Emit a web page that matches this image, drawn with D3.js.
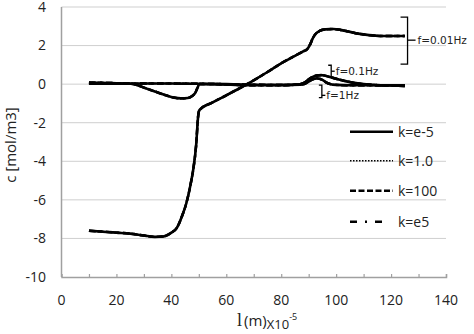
<!DOCTYPE html>
<html><head><meta charset="utf-8">
<script src="https://cdn.jsdelivr.net/npm/d3@7"></script>
<style>body{margin:0;background:#fff}svg{display:block}</style>
</head><body><svg id="c" width="474" height="334"></svg>
<script>
// ---- data ----
const xTicks = [0,20,40,60,80,100,120,140];
const yTicks = [-10,-8,-6,-4,-2,0,2,4];
const kLabels = ["k=e-5","k=1.0","k=100","k=e5"];
const fLabels = ["f=0.01Hz","f=0.1Hz","f=1Hz"];

const x001 = [10,15,20,25,30,34,37,40,42,44,45.5,47,48,49,49.8,50.2,55,60,65,70,75,80,85,88,89.5,90.5,91.5,92.5,94,96,99,102,105,108,112,116,120,125];
const y001 = [-7.6,-7.65,-7.7,-7.75,-7.85,-7.92,-7.9,-7.7,-7.45,-6.8,-6.15,-5.2,-4.4,-3.2,-1.6,-1.35,-0.95,-0.58,-0.2,0.2,0.63,1.08,1.47,1.7,1.82,2.05,2.38,2.6,2.76,2.84,2.86,2.8,2.71,2.62,2.54,2.5,2.5,2.5];

const x01 = [10,20,26,30,34,38,41,43.5,46,47.5,48.7,49.5,50.2,55,60,70,80,86,88.5,90,91.5,93,94.5,96,98,100,103,106,110,115,120,125];
const y01 = [0.08,0.05,0.01,-0.18,-0.38,-0.58,-0.7,-0.74,-0.72,-0.62,-0.45,-0.2,0.0,0.0,-0.02,-0.06,-0.06,-0.02,0.08,0.25,0.38,0.45,0.47,0.44,0.36,0.28,0.17,0.08,0.0,-0.05,-0.07,-0.1];

const x1 = [10,20,30,40,50,60,70,80,87,89.5,91,93,95,96.5,98,100,105,110,115,120,125];
const y1 = [0.02,0.02,0.03,0.03,0.02,0.0,-0.03,-0.04,-0.03,0.08,0.22,0.3,0.22,0.08,0.0,-0.04,-0.06,-0.06,-0.06,-0.06,-0.06];

// bracket annotations: [x of spine, top y, bottom y, middle y] in data units
const bracket001 = [126.0, 3.48, 1.04, 2.28];
const bracket01  = [98.2, 0.98, 0.36, 0.67];
const bracket1   = [94.8, -0.05, -0.7, -0.58];

// ---- layout ----
const svg = d3.select("#c");
const x = d3.scaleLinear().domain([0,140]).range([61.5,446]);
const y = d3.scaleLinear().domain([-10,4]).range([277,7]);
const font = "'Open Sans', sans-serif";

// gridlines
svg.append("g").selectAll("line").data(yTicks.filter(d=>d>-10)).join("line")
  .attr("x1",x(0)).attr("x2",x(140)).attr("y1",d=>y(d)).attr("y2",d=>y(d))
  .attr("stroke","#cfcfcf").attr("stroke-width",1);

// axes
const xAxis = d3.axisBottom(x).tickValues(d3.range(10,141,10)).tickSize(-3).tickFormat("");
svg.append("g").attr("transform",`translate(0,${y(-10)})`).call(xAxis)
  .call(g=>{g.select(".domain").attr("stroke","#a0a0a0").attr("stroke-width",1.5);
            g.selectAll(".tick line").attr("stroke","#a0a0a0").attr("stroke-width",1.2);});
svg.append("line").attr("x1",x(0)).attr("x2",x(0)).attr("y1",y(4)).attr("y2",y(-10))
  .attr("stroke","#a0a0a0").attr("stroke-width",1.5);

// tick labels
svg.append("g").selectAll("text").data(xTicks).join("text")
  .attr("x",d=>x(d)).attr("y",305).attr("text-anchor","middle")
  .attr("font-family",font).attr("font-size",14).attr("fill","#222").text(d=>d);
svg.append("g").selectAll("text").data(yTicks).join("text")
  .attr("x",46).attr("y",d=>y(d)).attr("dy","0.35em").attr("text-anchor","end")
  .attr("font-family",font).attr("font-size",14).attr("fill","#222").text(d=>d);

// axis titles
svg.append("text").attr("transform","translate(16,145) rotate(-90)").attr("text-anchor","middle")
  .attr("font-family",font).attr("font-size",15).attr("fill","#222").text("c [mol/m3]");
const xt = svg.append("text").attr("x",237).attr("y",326).attr("fill","#222").attr("font-family",font);
xt.append("tspan").attr("font-family","'Liberation Serif', serif").attr("font-size",18).text("l");
xt.append("tspan").attr("font-size",15).attr("dx",2).text("(m)");
xt.append("tspan").attr("font-size",13).attr("dy",3).text("X10");
xt.append("tspan").attr("font-size",9).attr("dy",-9).text("-5");

// curves
const styles = [
  {w:2.6, dash:null},
  {w:1.6, dash:"1.5,1.5"},
  {w:2.4, dash:"6,2.5"},
  {w:2.4, dash:"7,4,2,4"}
];
const series = [[x001,y001],[x01,y01],[x1,y1]];
const line = d3.line().x(d=>x(d[0])).y(d=>y(d[1])).curve(d3.curveMonotoneX);
const gl = svg.append("g").attr("fill","none").attr("stroke","#000").attr("stroke-linejoin","round");
series.forEach(([xs,ys])=>{
  const pts = xs.map((v,i)=>[v,ys[i]]);
  styles.forEach(s=>{
    gl.append("path").attr("d",line(pts)).attr("stroke-width",s.w)
      .attr("stroke-dasharray",s.dash);
  });
});

// brackets
function bracket(b, label, w, big){
  const [bx,t,bt,m] = b;
  const g = svg.append("g").attr("fill","none").attr("stroke","#000").attr("stroke-width",1.3);
  const sx = x(bx);
  g.append("path").attr("d",`M${sx-w},${y(t)} H${sx} V${y(bt)} H${sx-w}`);
  g.append("path").attr("d",`M${sx},${y(m)} H${sx+(big?8:3.5)}`);
  svg.append("text").attr("x",sx+(big?10:4.5)).attr("y",y(m)+4)
    .attr("font-family","'DejaVu Sans', sans-serif").attr("font-size",10.5).attr("fill","#222").text(label);
}
bracket(bracket001, fLabels[0], 7, true);
bracket(bracket01, fLabels[1], 3, false);
bracket(bracket1, fLabels[2], 3, false);

// legend
const lg = svg.append("g");
const ly = [131.7,160.7,190.7,221.7];
kLabels.forEach((k,i)=>{
  const s = styles[i];
  lg.append("line").attr("x1",350).attr("x2",i===3?386:393).attr("y1",ly[i]).attr("y2",ly[i])
    .attr("stroke","#000").attr("stroke-width",i===1?1.6:2.6)
    .attr("stroke-dasharray",i===3?"7,8,2,8":s.dash);
  lg.append("text").attr("x",398).attr("y",ly[i]).attr("dy","0.35em").attr("font-family",font)
    .attr("font-size",14).attr("fill","#222").text(k);
});
</script></body></html>
